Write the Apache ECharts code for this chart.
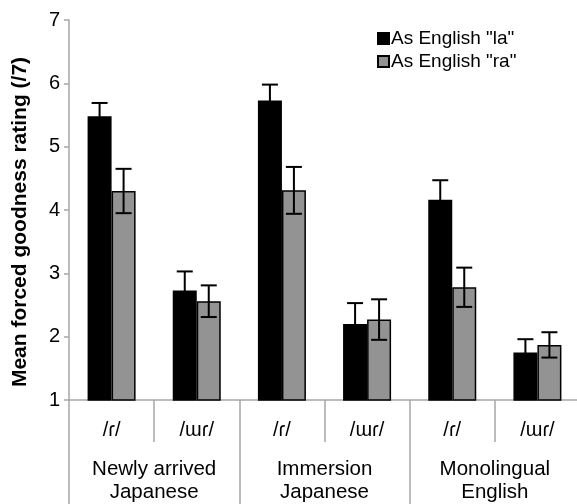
<!DOCTYPE html>
<html>
<head>
<meta charset="utf-8">
<title>Mean forced goodness rating</title>
<script src="https://cdn.jsdelivr.net/npm/echarts@6/dist/echarts.min.js"></script>
<style>
  html, body { margin: 0; padding: 0; background: #fff; }
  #chart { width: 577px; height: 504px; }
</style>
</head>
<body>
<div id="chart"></div>
<script>
// Stimulus categories (inner row) and listener groups (outer row)
const subCategories = ['/ɾ/', '/ɯɾ/', '/ɾ/', '/ɯɾ/', '/ɾ/', '/ɯɾ/'];
const groups = ['Newly arrived\nJapanese', 'Immersion\nJapanese', 'Monolingual\nEnglish'];

// Mean ratings and error-bar half-widths
const laMeans = [5.48, 2.73, 5.73, 2.20, 4.16, 1.75];
const laErr   = [0.21, 0.30, 0.25, 0.33, 0.31, 0.21];
const raMeans = [4.30, 2.56, 4.31, 2.27, 2.78, 1.87];
const raErr   = [0.35, 0.25, 0.37, 0.32, 0.31, 0.20];

const yTicks = [1, 2, 3, 4, 5, 6, 7];

const FONT = '"Liberation Sans", Arial, "DejaVu Sans", sans-serif';
const AXIS_GREY = '#a6a6a6';
const BAR_W = 24;
const CAP_W = 16;

function errorSeries(name, means, errs, offset) {
  return {
    name: name + ' error',
    type: 'custom',
    z: 10,
    silent: true,
    data: means.map((m, i) => [i, m - errs[i], m + errs[i]]),
    renderItem: function (params, api) {
      const idx = api.value(0);
      const lo = api.coord([idx, api.value(1)]);
      const hi = api.coord([idx, api.value(2)]);
      const x = lo[0] + offset;
      const style = { stroke: '#000', lineWidth: 2 };
      return {
        type: 'group',
        children: [
          { type: 'line', shape: { x1: x, y1: lo[1], x2: x, y2: hi[1] }, style: style },
          { type: 'line', shape: { x1: x - CAP_W / 2, y1: hi[1], x2: x + CAP_W / 2, y2: hi[1] }, style: style },
          { type: 'line', shape: { x1: x - CAP_W / 2, y1: lo[1], x2: x + CAP_W / 2, y2: lo[1] }, style: style }
        ]
      };
    }
  };
}

const chart = echarts.init(document.getElementById('chart'), null, { renderer: 'canvas' });

chart.setOption({
  animation: false,
  backgroundColor: '#fff',
  textStyle: { fontFamily: FONT },
  grid: { left: 69, right: -3, top: 20, bottom: 104, containLabel: false, outerBoundsMode: 'none' },
  legend: {
    orient: 'vertical',
    left: 377,
    top: 29,
    padding: 0,
    itemWidth: 11,
    itemHeight: 11,
    itemGap: 4,
    icon: 'rect',
    data: ['As English "la"', 'As English "ra"'],
    textStyle: { fontFamily: FONT, fontSize: 19, color: '#000', padding: [0, 0, 0, -3] }
  },
  xAxis: [
    {
      type: 'category',
      data: subCategories,
      position: 'bottom',
      axisLine: { show: true, lineStyle: { color: AXIS_GREY, width: 1.5 } },
      axisTick: { show: true, interval: 0, length: 42, lineStyle: { color: AXIS_GREY, width: 1.5 } },
      axisLabel: { interval: 0, margin: 20, fontSize: 20, color: '#000', fontFamily: FONT }
    },
    {
      type: 'category',
      data: groups,
      position: 'bottom',
      axisLine: { show: false },
      axisTick: { show: true, interval: 0, length: 110, lineStyle: { color: AXIS_GREY, width: 1.5 } },
      axisLabel: { interval: 0, margin: 58, fontSize: 20.5, lineHeight: 23, color: '#000', fontFamily: FONT }
    }
  ],
  yAxis: {
    type: 'value',
    min: yTicks[0],
    max: yTicks[yTicks.length - 1],
    interval: 1,
    name: 'Mean forced goodness rating (/7)',
    nameLocation: 'middle',
    nameRotate: 90,
    nameGap: 38,
    nameTextStyle: { fontFamily: FONT, fontSize: 21, fontWeight: 'bold', color: '#000', padding: [0, 24, 0, 0] },
    axisLine: { show: true, lineStyle: { color: AXIS_GREY, width: 1.5 } },
    axisTick: { show: true, length: 5, lineStyle: { color: AXIS_GREY, width: 1.5 } },
    axisLabel: { margin: 9, fontSize: 20, color: '#000', fontFamily: FONT },
    splitLine: { show: false }
  },
  series: [
    {
      name: 'As English "la"',
      type: 'bar',
      barWidth: BAR_W,
      barGap: '0%',
      data: laMeans,
      itemStyle: { color: '#000', borderColor: '#000', borderWidth: 1.5 }
    },
    {
      name: 'As English "ra"',
      type: 'bar',
      barWidth: BAR_W,
      barGap: '0%',
      data: raMeans,
      itemStyle: { color: '#939393', borderColor: '#000', borderWidth: 1.5 }
    },
    errorSeries('As English "la"', laMeans, laErr, -BAR_W / 2),
    errorSeries('As English "ra"', raMeans, raErr, BAR_W / 2)
  ]
});
</script>
</body>
</html>
